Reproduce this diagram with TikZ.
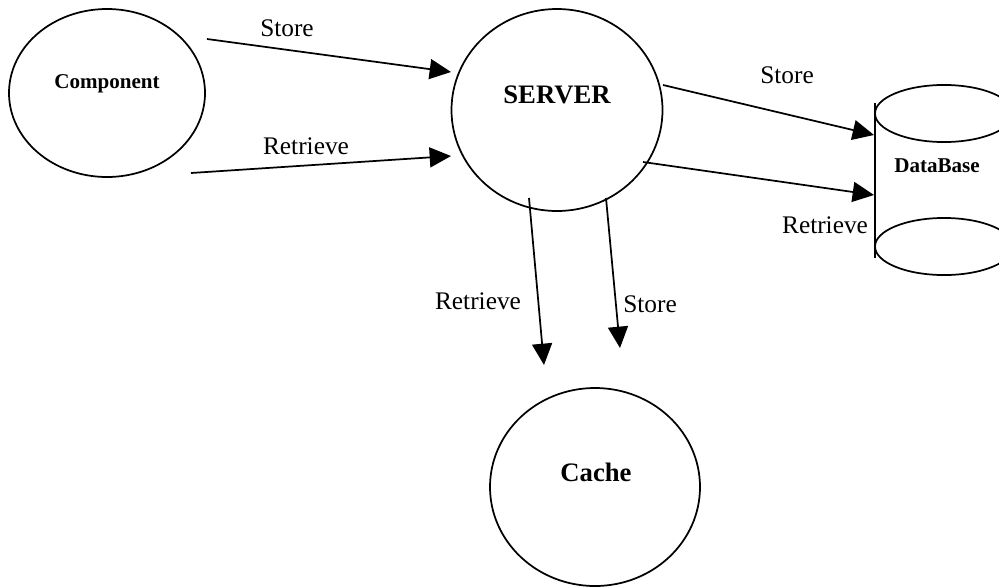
\documentclass[tikz,border=0pt]{standalone}
\usepackage{fontspec}
\setmainfont{Liberation Serif}
\usetikzlibrary{arrows.meta,shapes.geometric}
\begin{document}
\begin{tikzpicture}[x=0.75pt,y=-0.75pt,
  every node/.style={inner sep=0pt},
  entity/.style={draw, ellipse, line width=1.3pt, inner sep=0pt},
  flow/.style={line width=1.3pt, -{Triangle[length=16pt,width=15pt]}},
  lbl/.style={anchor=base, font=\fontsize{19}{22}\selectfont},
  bigname/.style={anchor=base, font=\fontsize{20}{24}\selectfont\bfseries},
  smallname/.style={anchor=base, font=\fontsize{15.8}{19}\selectfont\bfseries},
  outline/.style={line width=1.3pt}
]
\useasboundingbox (0,0) rectangle (999,586);
\clip (0,0) rectangle (999,586);

% entities
\node[entity, minimum width=147pt, minimum height=126pt] (comp) at (107,93) {};
\node[smallname] (compname) at (107,88) {Component};

\node[entity, minimum width=158.25pt, minimum height=151.5pt] (srv) at (557,110) {};
\node[bigname] (srvname) at (557,103) {SERVER};

\node[entity, minimum width=157.5pt, minimum height=148.5pt] (cache) at (595,487) {};
\node[bigname] (cachename) at (596,481) {Cache};

% database drum
\draw[outline] (875,103) -- (875,258);
\draw[outline] (944,113.5) ellipse [x radius=51.75pt, y radius=21.4pt];
\draw[outline] (944,246.5) ellipse [x radius=51.75pt, y radius=21.4pt];
\node[smallname] (db) at (937,172) {DataBase};

% connector end points
\coordinate (cs0) at (207,39);
\coordinate (cs1) at (451,72);
\coordinate (cr0) at (191,173);
\coordinate (cr1) at (451,156);
\coordinate (ds0) at (663,85);
\coordinate (ds1) at (874,135);
\coordinate (dr0) at (643,162);
\coordinate (dr1) at (874,195);
\coordinate (kr0) at (529,198);
\coordinate (kr1) at (544,365);
\coordinate (ks0) at (606,198);
\coordinate (ks1) at (620,348);

% flows
\draw[flow] (cs0) -- (cs1);
\draw[flow] (cr0) -- (cr1);
\draw[flow] (ds0) -- (ds1);
\draw[flow] (dr0) -- (dr1);
\draw[flow] (kr0) -- (kr1);
\draw[flow] (ks0) -- (ks1);

% flow labels
\node[lbl] (l1) at (287,36) {Store};
\node[lbl] (l2) at (306,154) {Retrieve};
\node[lbl] (l3) at (787,83) {Store};
\node[lbl] (l4) at (825,233) {Retrieve};
\node[lbl] (l5) at (478,309) {Retrieve};
\node[lbl] (l6) at (650,312) {Store};
\end{tikzpicture}
\end{document}
